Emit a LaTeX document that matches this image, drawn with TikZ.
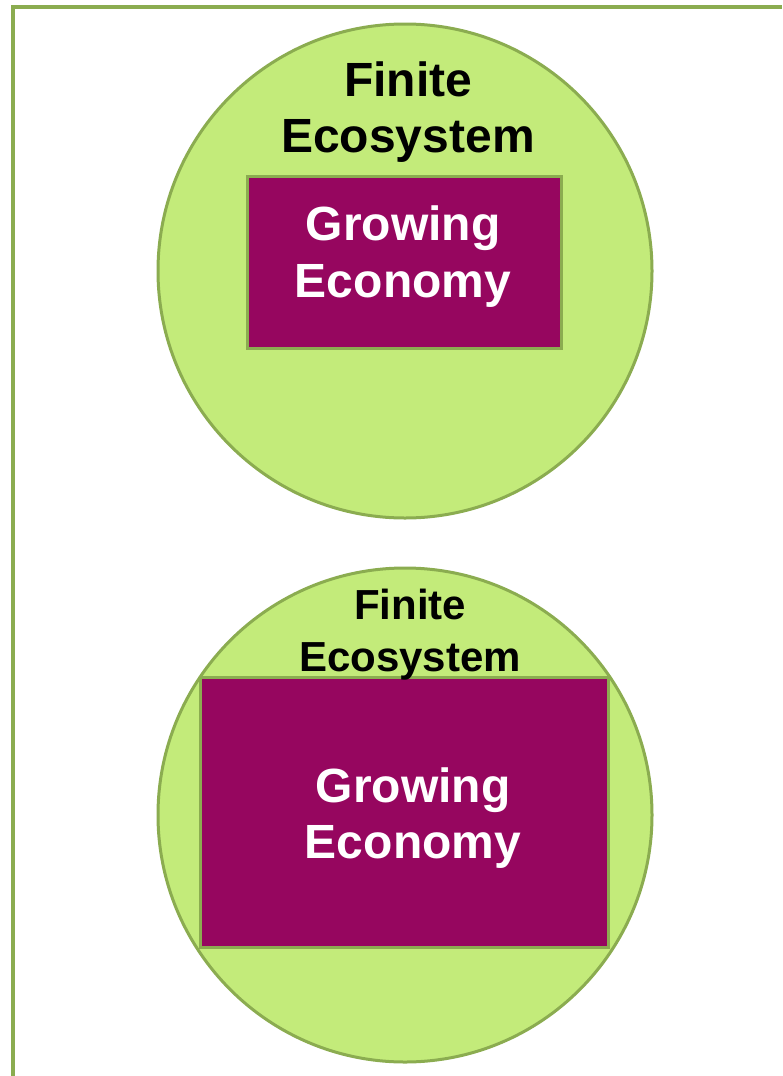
\documentclass[tikz,border=0pt]{standalone}
\usepackage{fontspec}
\setmainfont{Liberation Sans}
\usetikzlibrary{positioning}
\definecolor{ecofill}{HTML}{C3EB7A}
\definecolor{ecoline}{HTML}{8BAC50}
\definecolor{econfill}{HTML}{96065F}
\tikzset{eco/.style={circle,draw=ecoline,fill=ecofill,line width=3pt,inner sep=0pt}}
\tikzset{econ/.style={rectangle,draw=ecoline,fill=econfill,line width=3pt,inner sep=0pt}}
\tikzset{lbl/.style={align=center,font=\bfseries,inner sep=0pt,anchor=base}}
\begin{document}
\begin{tikzpicture}[x=1pt,y=-1pt]
        \useasboundingbox (0,0) rectangle (782,1076);
        \draw[ecoline,line width=4.5pt] (13,1076) -- (13,7) -- (782,7);
        % before
        \node(eco1)[eco,minimum size=494pt] at (405,271) {};
        \node(econ1)[econ,minimum width=314pt,minimum height=172pt] at (404.5,262.5) {};
        \node(fin1)[lbl,font=\fontsize{48}{56}\selectfont\bfseries] at (408,152) {Finite\\Ecosystem};
        \node(grow1)[lbl,text=white,font=\fontsize{48}{57}\selectfont\bfseries] at (403,297) {Growing\\Economy};
        % after
        \node(eco2)[eco,minimum size=494pt] at (405,815) {};
        \node(econ2)[econ,minimum width=408pt,minimum height=270pt] at (404.5,812.5) {};
        \node(fin2)[lbl,font=\fontsize{42}{52}\selectfont\bfseries] at (410,671) {Finite\\Ecosystem};
        \node(grow2)[lbl,text=white,font=\fontsize{48}{56}\selectfont\bfseries] at (413,858) {Growing\\Economy};
\end{tikzpicture}
\end{document}
